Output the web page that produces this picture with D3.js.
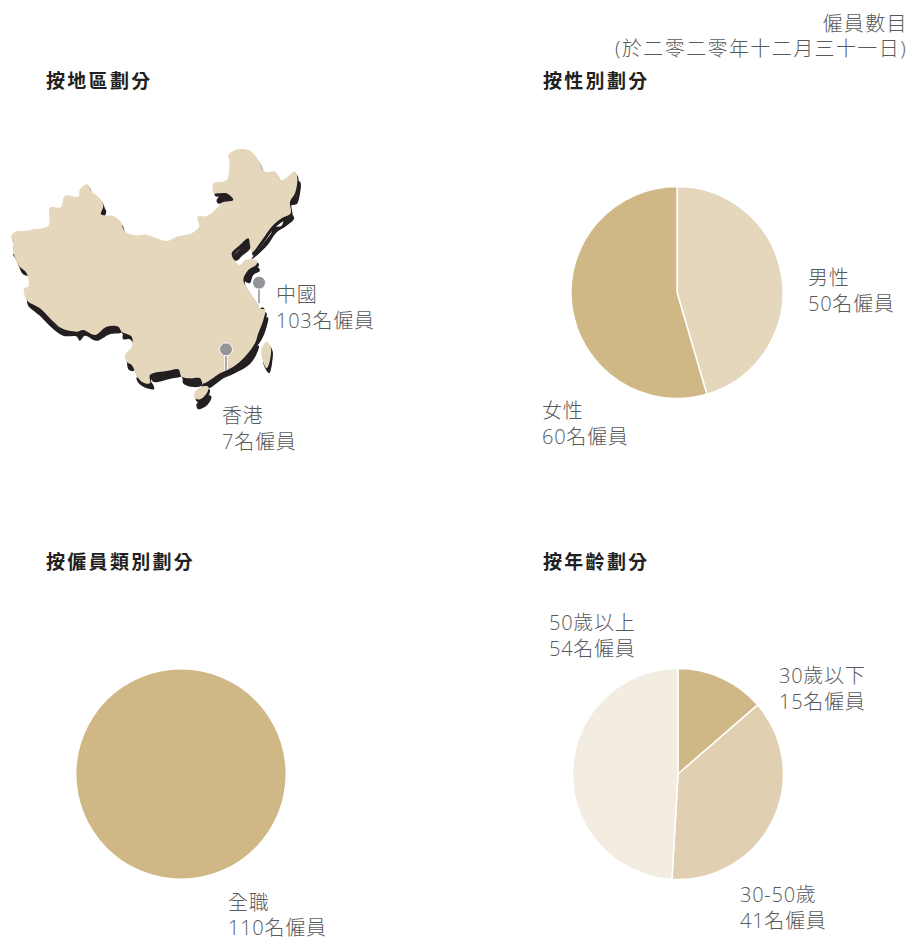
<!DOCTYPE html>
<html>
<head>
<meta charset="utf-8">
<script src="https://d3js.org/d3.v7.min.js"></script>
<style>
    body { margin: 0; background: #fff; }
    text { font-family: "Open Sans", "Noto Sans CJK TC", sans-serif; fill: #58595b; font-size: 20px; font-weight: 300; letter-spacing: 0.75px; }
    .head { font-weight: 700; fill: #231f20; font-size: 19px; letter-spacing: 2.3px; }
    .note { letter-spacing: 1.4px; }
</style>
</head>
<body>
<script>
    // values
    const genderNames = ["男性", "女性"];
    const genderValues = [50, 60];
    const typeNames = ["全職"];
    const typeValues = [110];
    const ageNames = ["30歲以下", "30-50歲", "50歲以上"];
    const ageValues = [15, 41, 54];
    const regionNames = ["中國", "香港"];
    const regionValues = [103, 7];

    const titles = ["按地區劃分", "按性別劃分", "按僱員類別劃分", "按年齡劃分"];
    const noteLines = ["僱員數目", "(於二零二零年十二月三十一日)"];

    // map outline, in crop units (3x)
    const mainland = [[33,320],[45,305],[75,303],[100,298],[145,287],[150,232],[182,232],[195,197],[235,200],[240,178],[262,163],[275,185],[300,205],[310,228],[303,253],[340,258],[362,275],[375,305],[410,316],[440,314],[470,325],[500,333],[530,320],[575,310],[598,288],[592,260],[620,258],[655,230],[665,218],[700,210],[680,190],[655,190],[642,190],[640,160],[680,150],[688,95],[685,75],[715,58],[750,62],[775,90],[795,125],[825,125],[845,150],[885,125],[892,145],[885,190],[870,215],[872,250],[845,265],[815,290],[790,325],[755,368],[750,345],[745,325],[720,345],[695,372],[720,405],[735,390],[772,392],[768,405],[745,420],[730,450],[745,480],[765,510],[780,535],[795,540],[790,570],[775,610],[765,640],[735,680],[700,710],[660,730],[610,760],[600,745],[570,745],[545,740],[535,718],[505,722],[450,735],[450,760],[425,755],[410,735],[395,705],[380,695],[375,675],[395,650],[395,620],[365,605],[355,590],[320,590],[285,615],[250,600],[230,605],[185,595],[155,570],[120,535],[80,510],[72,475],[85,470],[80,430],[55,405],[40,365],[40,335]];
    const taiwan = [[785,655],[800,635],[812,650],[810,690],[800,715],[785,680]];
    const hainan = [[583,790],[600,772],[625,770],[620,790],[600,808],[585,805]];
    const shadows = [
        [[645,205],[655,190],[680,185],[700,205],[680,208],[650,213]],
        [[298,245],[305,225],[314,235],[310,250]],
        [[692,375],[715,350],[740,322],[755,325],[745,350],[722,370],[705,385]],
        [[730,445],[745,415],[770,405],[775,415],[755,428],[745,452]],
        [[750,380],[780,340],[810,300],[815,285],[840,280],[850,255],[870,245],[878,258],[855,280],[825,300],[800,335],[765,370]],
        [[862,215],[885,190],[888,145],[897,150],[892,200],[885,215]],
        [[600,760],[660,725],[700,705],[735,680],[760,640],[772,640],[765,665],[745,695],[700,722],[665,738],[620,768]],
        [[765,640],[775,605],[795,555],[800,555],[790,600],[775,630]],
        [[448,730],[505,715],[535,712],[542,730],[510,738],[455,748]],
        [[545,740],[600,745],[600,760],[570,763],[545,752]],
        [[405,735],[425,745],[450,750],[458,770],[430,765],[410,750]],
        [[378,690],[395,695],[397,715],[382,712]],
        [[78,505],[120,530],[155,570],[185,595],[230,600],[250,595],[285,610],[320,585],[360,585],[360,600],[325,605],[285,625],[250,610],[235,625],[225,612],[185,610],[150,585],[115,550],[80,520]],
        [[365,605],[385,600],[398,635],[385,620],[365,620]],
        [[38,335],[45,335],[45,352],[38,352]],
        [[35,365],[50,368],[55,390],[45,382]],
        [[55,405],[75,410],[85,430],[65,425]],
        [[585,815],[625,788],[630,795],[615,820],[590,830]],
        [[785,680],[805,655],[812,655],[812,690],[803,722],[790,705]],
        [[762,535],[785,525],[790,540],[775,538]]
    ];
    const pins = [[777,458,520],[678,658,720]];

    const width = 909, height = 941;
    const svg = d3.select("body").append("svg")
        .attr("width", width)
        .attr("height", height)
        .style("display", "block");

    // headings
    svg.selectAll(".head")
        .data(titles)
        .join("text")
        .attr("class", "head")
        .attr("x", (d, i) => i % 2 ? 543 : 46)
        .attr("y", (d, i) => i < 2 ? 88 : 569)
        .text(d => d);

    svg.append("text")
        .attr("class", "note")
        .attr("text-anchor", "end")
        .attr("x", 908)
        .attr("y", 31)
        .text(noteLines[0]);
    svg.append("text")
        .attr("class", "note")
        .attr("text-anchor", "end")
        .attr("x", 907)
        .attr("y", 56)
        .text(noteLines[1]);

    // map
    const mx = d3.scaleLinear().domain([0, 310]).range([0, 103.33]);
    const my = d3.scaleLinear().domain([0, 290]).range([130, 226.67]);
    const line = d3.line().x(d => mx(d[0])).y(d => my(d[1])).curve(d3.curveCatmullRomClosed.alpha(0.5));
    const shapes = [mainland, taiwan, hainan];

    const map = svg.append("g");
    map.append("g")
        .selectAll("path")
        .data(shapes.concat(shadows))
        .join("path")
        .attr("d", line)
        .attr("transform", (d, i) => i < 3 ? "translate(1.5,3)" : "translate(1.5,2.5)")
        .attr("fill", "#231f20");
    map.append("g")
        .selectAll("path")
        .data(shapes)
        .join("path")
        .attr("d", line)
        .attr("fill", "#e4d7bc");

    const pin = map.selectAll(".pin").data(pins).join("g").attr("class", "pin");
    pin.append("line")
        .attr("x1", d => mx(d[0])).attr("x2", d => mx(d[0]))
        .attr("y1", d => my(d[1])).attr("y2", d => my(d[2]))
        .attr("stroke", "#fff").attr("stroke-width", 3.4);
    pin.append("line")
        .attr("x1", d => mx(d[0])).attr("x2", d => mx(d[0]))
        .attr("y1", d => my(d[1])).attr("y2", d => my(d[2]))
        .attr("stroke", "#939598").attr("stroke-width", 1.6);
    pin.append("circle")
        .attr("cx", d => mx(d[0])).attr("cy", d => my(d[1]))
        .attr("r", 6.5)
        .attr("fill", "#939598")
        .attr("stroke", "#fff")
        .attr("stroke-width", 1);

    function pieChart(cx, cy, r, values, colors) {
        let arcs = d3.pie().sort(null)(values);
        let arc = d3.arc().innerRadius(0).outerRadius(r);
        svg.append("g")
            .attr("transform", `translate(${cx},${cy})`)
            .selectAll("path")
            .data(arcs)
            .join("path")
            .attr("d", arc)
            .attr("fill", (d, i) => colors[i])
            .attr("stroke", values.length > 1 ? "#fff" : "none")
            .attr("stroke-width", 1.5);
    }

    pieChart(677, 292.5, 106, genderValues, ["#e4d7bc", "#cfb886"]);
    pieChart(181, 774, 104.5, typeValues, ["#cfb886"]);
    pieChart(678, 774, 105.5, ageValues, ["#cfb886", "#e0cfb0", "#f2ece1"]);

    // two line labels: name, then count
    function label(x, y, name, value) {
        let t = svg.append("text").attr("x", x).attr("y", y);
        t.append("tspan").attr("x", x).text(name);
        t.append("tspan").attr("x", x).attr("dy", 25.6).text(value + "名僱員");
    }

    label(276, 302, regionNames[0], regionValues[0]);
    label(222, 423, regionNames[1], regionValues[1]);
    label(808, 285, genderNames[0], genderValues[0]);
    label(542, 418, genderNames[1], genderValues[1]);
    label(228, 909.5, typeNames[0], typeValues[0]);
    label(779, 683, ageNames[0], ageValues[0]);
    label(740, 902, ageNames[1], ageValues[1]);
    label(549, 630, ageNames[2], ageValues[2]);
</script>
</body>
</html>
